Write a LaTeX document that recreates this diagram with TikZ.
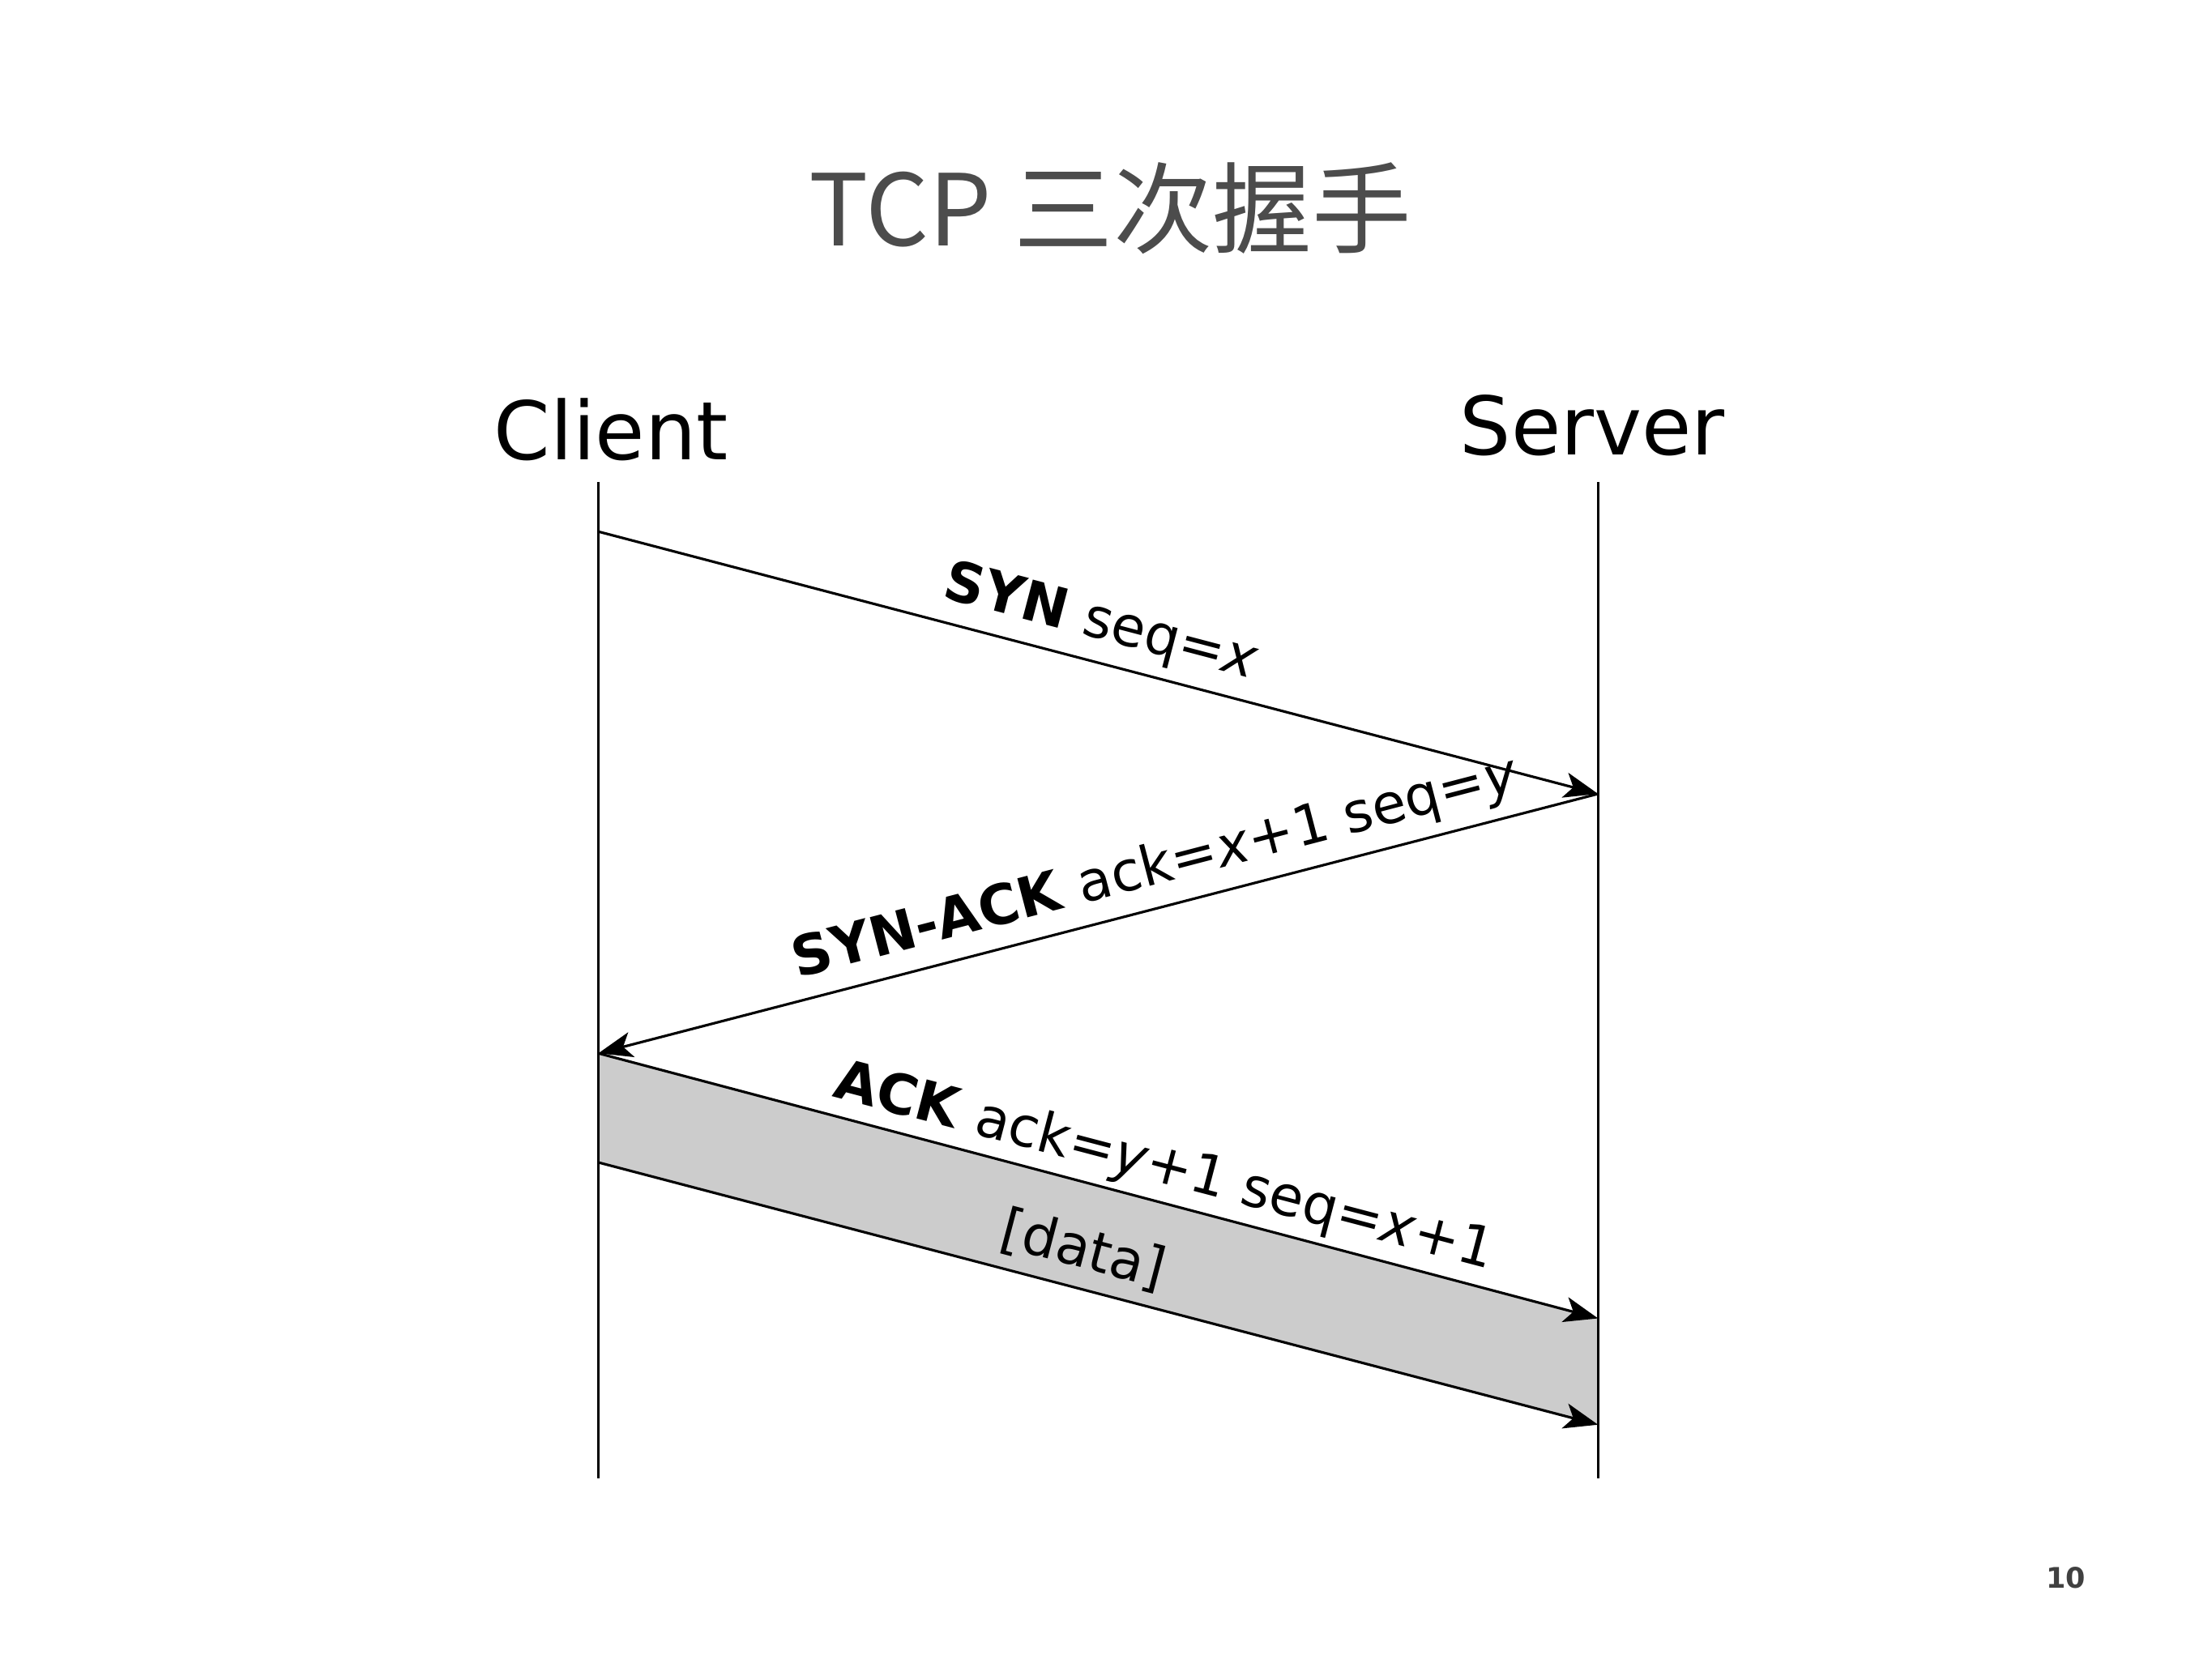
\documentclass[tikz,border=0pt]{standalone}
\usepackage{fontspec}
\setmainfont{DejaVu Sans}
\newfontfamily\cjk{Noto Sans CJK SC}
\usetikzlibrary{arrows.meta}
\begin{document}
\begin{tikzpicture}[x=0.5pt,y=-0.5pt,
  msg/.style={line width=0.9pt,-{Stealth[length=12pt,width=9pt,inset=3pt]}},
  life/.style={line width=0.9pt},
  lbl/.style={font=\fontsize{19.5}{24}\selectfont,inner sep=0pt}]
\useasboundingbox (0,0) rectangle (1560,1170);
\node[font=\cjk\fontsize{35}{42}\selectfont,text=black!70] (title) at (783,147) {TCP 三次握手};
\node[font=\fontsize{28.5}{34}\selectfont] (client) at (431,303) {Client};
\node[font=\fontsize{28.5}{34}\selectfont] (server) at (1123,300) {Server};
\coordinate (ct) at (422,340); \coordinate (cb) at (422,1043);
\coordinate (st) at (1127,340); \coordinate (sb) at (1127,1043);
\coordinate (c1) at (422,375); \coordinate (s1) at (1127,560);
\coordinate (c2) at (422,743); \coordinate (s2) at (1127,930);
\coordinate (c3) at (422,820); \coordinate (s3) at (1127,1005);
\fill[black!20] (c2) -- (s2) -- (s3) -- (c3) -- cycle;
\draw[life] (ct) -- (cb);
\draw[life] (st) -- (sb);
\draw[msg] (c1) -- (s1);
\draw[msg] (s1) -- (c2);
\draw[msg] (c2) -- (s2);
\draw[msg] (c3) -- (s3);
\node[lbl,rotate=-14.7] (l1) at (776,440) {\textbf{SYN} seq=\textit{x}};
\node[lbl,rotate=14.6] (l2) at (815,613) {\textbf{SYN-ACK} ack=\textit{x}+1 seq=\textit{y}};
\node[lbl,rotate=-14.7] (l3) at (821,824) {\textbf{ACK} ack=\textit{y}+1 seq=\textit{x}+1};
\node[lbl,rotate=-14.7] (l4) at (764,882) {[data]};
\node[font=\bfseries\fontsize{10}{12}\selectfont,text=black!75] (pg) at (1457,1113) {10};
\end{tikzpicture}
\end{document}
